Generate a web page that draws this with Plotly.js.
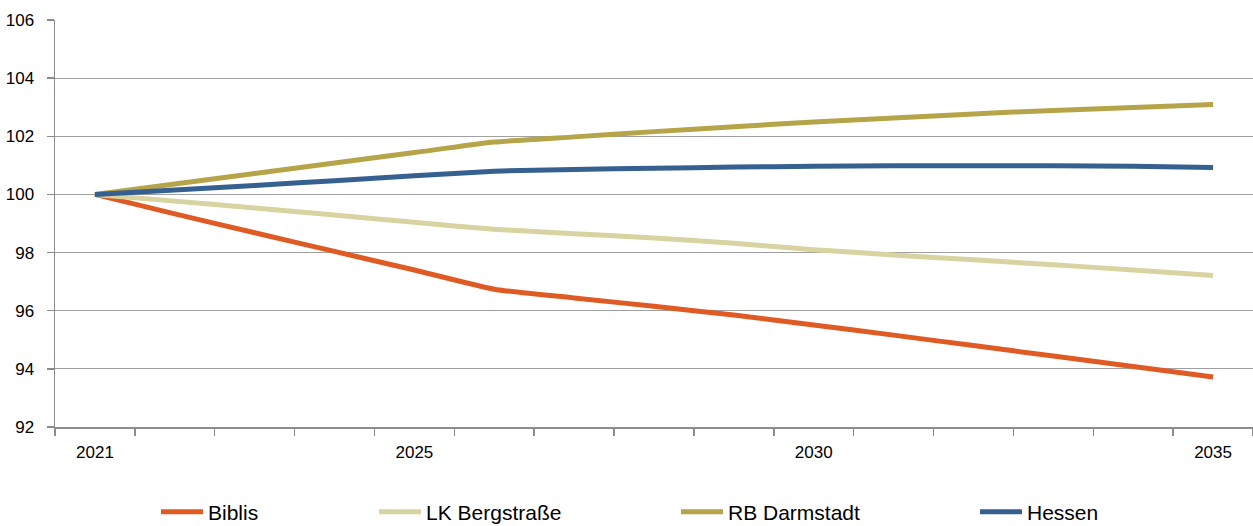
<!DOCTYPE html>
<html>
<head>
<meta charset="utf-8">
<script src="https://cdn.plot.ly/plotly-3.0.1.min.js"></script>
<style>html,body{margin:0;padding:0;background:#fff;}#chart{width:1253px;height:526px;}</style>
</head>
<body>
<div id="chart"></div>
<script>
const years = ['2021','2022','2023','2024','2025','2026','2027','2028','2029','2030','2031','2032','2033','2034','2035'];
const yearLabels = ['2021','','','','2025','','','','','2030','','','','','2035'];
const yTicks = [92, 94, 96, 98, 100, 102, 104, 106];
const biblis = [100, 99.33, 98.68, 98.04, 97.40, 96.74, 96.44, 96.15, 95.85, 95.51, 95.16, 94.80, 94.44, 94.08, 93.72];
const bergstrasse = [100, 99.77, 99.53, 99.29, 99.04, 98.80, 98.65, 98.50, 98.32, 98.10, 97.92, 97.75, 97.58, 97.40, 97.21];
const darmstadt = [100, 100.36, 100.72, 101.08, 101.44, 101.80, 101.98, 102.16, 102.33, 102.49, 102.63, 102.77, 102.89, 102.99, 103.09];
const hessen = [100, 100.15, 100.31, 100.47, 100.64, 100.80, 100.86, 100.90, 100.94, 100.97, 100.99, 100.99, 100.99, 100.97, 100.93];
const seriesNames = ['Biblis', 'LK Bergstraße', 'RB Darmstadt', 'Hessen'];
const seriesColors = ['#E05A24', '#D8D3A0', '#B6A548', '#35608F'];
const seriesData = [biblis, bergstrasse, darmstadt, hessen];

const FONT = '"Liberation Sans", Arial, sans-serif';
const W = 1253, H = 526, ML = 55, MR = 0, MT = 20, MB = 99;
const plotW = W - ML - MR, plotH = H - MT - MB;
// desired left edge (px) of each legend item
const legendPx = [156, 374, 676, 975];
const legendCenterPx = 512;

const traces = seriesData.map((d, i) => ({
  type: 'scatter', mode: 'lines', x: years, y: d, name: seriesNames[i],
  line: {color: seriesColors[i], width: 5, shape: 'spline', smoothing: 0.5},
  legend: i === 0 ? 'legend' : 'legend' + (i + 1),
  hoverinfo: 'skip'
}));

const layout = {
  width: W, height: H,
  margin: {l: ML, r: MR, t: MT, b: MB, autoexpand: false},
  paper_bgcolor: '#ffffff', plot_bgcolor: '#ffffff',
  font: {family: FONT, size: 17, color: '#000000'},
  showlegend: true,
  xaxis: {
    type: 'category', range: [-0.5, 14.5],
    tickmode: 'array', tickvals: years, ticktext: yearLabels,
    tickson: 'boundaries', ticks: 'outside', ticklen: 7, tickcolor: '#8C8C8C', tickwidth: 1.5,
    showline: true, linecolor: '#8C8C8C', linewidth: 1.5,
    showgrid: false, zeroline: false, ticklabelstandoff: 9,
    tickfont: {family: FONT, size: 17, color: '#000'}
  },
  yaxis: {
    range: [92, 106], tickmode: 'array', tickvals: yTicks,
    ticks: 'outside', ticklen: 7, tickcolor: '#8C8C8C', tickwidth: 1.5,
    showline: true, linecolor: '#8C8C8C', linewidth: 1.5,
    showgrid: true, gridcolor: '#A0A0A0', gridwidth: 1, zeroline: false,
    ticklabelstandoff: 9,
    tickfont: {family: FONT, size: 17, color: '#000'}
  }
};
['legend','legend2','legend3','legend4'].forEach((k, i) => {
  layout[k] = {
    orientation: 'h', xref: 'paper', yref: 'paper',
    x: (legendPx[i] - ML) / plotW, xanchor: 'left',
    y: -(legendCenterPx - (MT + plotH)) / plotH, yanchor: 'middle',
    bgcolor: 'rgba(0,0,0,0)', borderwidth: 0,
    font: {family: FONT, size: 21, color: '#000'},
    itemwidth: 42, tracegroupgap: 0
  };
});

Plotly.newPlot('chart', traces, layout, {displayModeBar: false, staticPlot: true});
</script>
</body>
</html>
